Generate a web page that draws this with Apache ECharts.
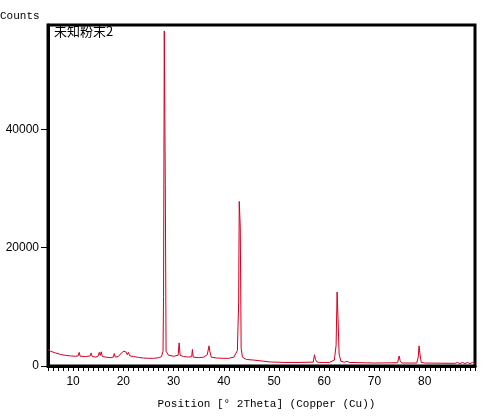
<!DOCTYPE html>
<html>
<head>
<meta charset="utf-8">
<script src="https://cdn.jsdelivr.net/npm/echarts@6/dist/echarts.min.js"></script>
<style>
  html, body { margin: 0; padding: 0; background: #fff; }
  #main { width: 496px; height: 417px; }
</style>
</head>
<body>
<div id="main"></div>
<script>
// position (deg 2theta) and counts
var twoTheta = [
  5.0, 5.5, 6.5, 7.5, 8.5, 9.5, 10.5, 11.0, 11.2, 11.4,
  12.5, 13.4, 13.6, 13.8, 14.5, 15.0, 15.2, 15.4, 15.6, 15.8,
  16.5, 17.5, 18.0, 18.2, 18.4, 19.0, 19.6, 20.1, 20.5, 20.8,
  21.0, 21.3, 22.0, 23.0, 24.0, 25.0, 26.0, 27.0, 27.6, 27.9,
  28.0, 28.15, 28.35, 28.5, 29.0, 30.0, 30.9, 31.1, 31.3, 32.0,
  33.0, 33.6, 33.75, 33.9, 35.0, 36.0, 36.7, 37.05, 37.2, 37.5,
  38.5, 40.0, 41.0, 42.0, 42.7, 42.95, 43.07, 43.27, 43.45, 43.7,
  44.5, 46.0, 47.0, 48.0, 49.0, 50.0, 50.3, 50.6, 52.0, 55.0,
  57.8, 58.05, 58.25, 58.5, 59.0, 61.0, 62.0, 62.35, 62.55, 62.75,
  62.95, 63.3, 64.0, 64.5, 65.0, 70.0, 74.6, 74.9, 75.1, 75.4,
  78.4, 78.7, 78.86, 79.05, 79.3, 80.0, 86.0, 86.5, 87.0, 87.5,
  88.0, 88.5, 89.0, 89.5, 90.0
];
var counts = [
  2800, 2500, 2200, 1950, 1800, 1700, 1650, 1700, 2300, 1650,
  1600, 1700, 2200, 1600, 1500, 1700, 2300, 1800, 2400, 1600,
  1500, 1400, 1500, 2100, 1500, 1600, 2200, 2500, 2400, 1900,
  2300, 1700, 1600, 1450, 1350, 1300, 1300, 1400, 1600, 2500,
  11700, 56600, 30700, 2500, 1800, 1650, 1800, 3900, 1800, 1600,
  1500, 1600, 2800, 1500, 1400, 1500, 1900, 3400, 2500, 1500,
  1350, 1300, 1300, 1500, 2600, 10800, 27800, 23500, 3000, 1500,
  1100, 1000, 900, 800, 700, 650, 900, 650, 600, 600,
  650, 1900, 1100, 700, 600, 600, 1000, 3500, 12500, 7600,
  2000, 800, 650, 800, 600, 500, 550, 1700, 900, 500,
  500, 1500, 3400, 2000, 600, 500, 450, 600, 400, 600,
  400, 600, 400, 600, 400
];
var xTicks = [];
for (var t = 5; t <= 90; t++) xTicks.push(t);
var xLabels = [10, 20, 30, 40, 50, 60, 70, 80];
var yLabels = [0, 20000, 40000];

var seriesData = twoTheta.map(function (x, i) { return [x, counts[i]]; });

var chart = echarts.init(document.getElementById('main'), null, { renderer: 'canvas' });
chart.setOption({
  animation: false,
  backgroundColor: '#fff',
  grid: {
    left: 48, top: 25, width: 427, height: 341,
    show: true, borderColor: '#000', borderWidth: 3, backgroundColor: 'transparent'
  },
  graphic: [
    {
      type: 'text', left: 0, top: 11,
      style: { text: 'Counts', font: '11px "Liberation Mono"', fill: '#000' }
    },
    {
      type: 'text', left: 54, top: 25,
      style: { text: '未知粉末2', font: '13px "Noto Sans CJK SC"', fill: '#000' }
    }
  ],
  xAxis: {
    type: 'value', min: 5, max: 90,
    name: 'Position [° 2Theta] (Copper (Cu))',
    nameLocation: 'middle', nameGap: 33,
    nameTextStyle: { fontFamily: 'Liberation Mono', fontSize: 11, color: '#000', padding: [0, 0, 0, 10] },
    axisLine: { show: true, lineStyle: { color: '#000', width: 3 } },
    axisTick: { show: true, length: 5, customValues: xTicks, lineStyle: { color: '#000', width: 1 } },
    axisLabel: { customValues: xLabels, margin: 10, fontFamily: 'Liberation Sans', fontSize: 12, color: '#000' },
    splitLine: { show: false }
  },
  yAxis: {
    type: 'value', min: 0, max: 57600,
    axisLine: { show: true, lineStyle: { color: '#000', width: 3 } },
    axisTick: { show: true, length: 7, customValues: yLabels, lineStyle: { color: '#000', width: 1 } },
    axisLabel: {
      customValues: yLabels, margin: 9, fontFamily: 'Liberation Sans', fontSize: 12, color: '#000',
      formatter: function (v) { return String(v); }
    },
    splitLine: { show: false }
  },
  series: [{
    type: 'line',
    data: seriesData,
    showSymbol: false,
    symbol: 'none',
    lineStyle: { color: '#d40020', width: 1 }
  }]
});
</script>
</body>
</html>
